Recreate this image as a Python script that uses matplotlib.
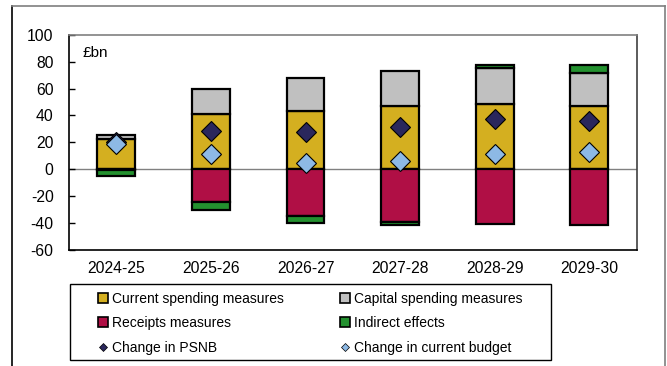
import matplotlib
matplotlib.use("Agg")
import matplotlib.pyplot as plt
import numpy as np
from matplotlib.lines import Line2D
from matplotlib.patches import Rectangle

plt.rcParams["font.family"] = ["Liberation Sans", "DejaVu Sans"]
plt.rcParams["font.size"] = 11
plt.rcParams["axes.unicode_minus"] = False

# Data (£bn)
years = ["2024-25", "2025-26", "2026-27", "2027-28", "2028-29", "2029-30"]
current_spending = [22.8, 41.4, 43.6, 46.8, 48.3, 46.8]
capital_spending = [2.5, 18.3, 24.0, 26.5, 27.2, 24.5]
receipts = [-0.5, -24.5, -34.9, -39.1, -40.4, -41.6]
indirect = [-4.7, -6.0, -5.0, -2.3, 2.3, 6.2]
change_psnb = [20.0, 28.7, 27.7, 31.5, 37.6, 35.9]
change_current_budget = [19.0, 11.4, 5.0, 6.4, 11.6, 12.6]
yticks = [-60, -40, -20, 0, 20, 40, 60, 80, 100]

col_current = "#D4AF20"
col_capital = "#C0C0C0"
col_receipts = "#B00F45"
col_indirect = "#23912F"
col_psnb = "#2A275C"
col_cb = "#8DB9E5"

fig = plt.figure(figsize=(6.67, 3.66), dpi=100)
W, H = 667, 366
ax = fig.add_axes([69 / W, 1 - 250 / H, (636.7 - 69) / W, (250 - 34.7) / H])

x = np.arange(len(years))
cur = np.array(current_spending)
cap = np.array(capital_spending)
rec = np.array(receipts)
ind = np.array(indirect)

bw = 0.40
edge = dict(edgecolor="black", linewidth=1.6, zorder=3)
ax.bar(x, cur, bw, color=col_current, **edge)
ax.bar(x, cap, bw, bottom=cur, color=col_capital, **edge)
ax.bar(x, rec, bw, color=col_receipts, **edge)
ind_bottom = np.where(ind >= 0, cur + cap, rec)
ax.bar(x, ind, bw, bottom=ind_bottom, color=col_indirect, **edge)

ax.plot(x, change_psnb, "D", color=col_psnb, markeredgecolor="black",
        markeredgewidth=0.8, markersize=10.5, linestyle="none", zorder=4)
ax.plot(x, change_current_budget, "D", color=col_cb, markeredgecolor="black",
        markeredgewidth=0.8, markersize=10.5, linestyle="none", zorder=5)

ax.axhline(0, color="#808080", linewidth=1.0, zorder=1)

ax.set_xlim(-0.5, len(years) - 0.5)
ax.set_ylim(-60, 100)
ax.set_yticks(yticks)
ax.set_xticks(x)
ax.set_xticklabels(years)
ax.tick_params(axis="y", direction="in", length=4, width=1, pad=11, labelsize=11.3)
ax.tick_params(axis="x", length=0, pad=8, labelsize=11.3)

ax.spines["left"].set_color("black")
ax.spines["bottom"].set_color("black")
ax.spines["top"].set_color("#808080")
ax.spines["right"].set_color("#404040")
for s in ax.spines.values():
    s.set_linewidth(1.2)

ax.text(14 / (636.7 - 69), 1 - (53 - 34.7) / (250 - 34.7), "£bn",
        transform=ax.transAxes, ha="left", va="center", fontsize=11)

# Legend
sq = dict(marker="s", linestyle="none", markersize=6.5,
          markeredgecolor="black", markeredgewidth=1.2)
dm = dict(marker="D", linestyle="none", markersize=4.5,
          markeredgecolor="black", markeredgewidth=0.5)
handles = [
    Line2D([], [], markerfacecolor=col_current, **sq),
    Line2D([], [], markerfacecolor=col_receipts, **sq),
    Line2D([], [], markerfacecolor=col_psnb, **dm),
    Line2D([], [], markerfacecolor=col_capital, **sq),
    Line2D([], [], markerfacecolor=col_indirect, **sq),
    Line2D([], [], markerfacecolor=col_cb, **dm),
]
labels = ["Current spending measures", "Receipts measures", "Change in PSNB",
          "Capital spending measures", "Indirect effects", "Change in current budget"]
fig.legend(handles, labels, ncol=2, loc="upper left",
           bbox_to_anchor=(97 / W, 1 - 291.5 / H), frameon=False, borderpad=0,
           handlelength=0.9, handletextpad=0.2, columnspacing=3.95,
           labelspacing=0.78, fontsize=10, borderaxespad=0)

fig.add_artist(Rectangle((70 / W, 1 - 360 / H), (551 - 70) / W, (360 - 284) / H,
                         transform=fig.transFigure, fill=False,
                         edgecolor="black", linewidth=1.0))

# Outer chart frame
fig.add_artist(Line2D([11.5 / W, 11.5 / W], [0, 1 - 5.5 / H],
                      transform=fig.transFigure, color="black", linewidth=1.2))
fig.add_artist(Line2D([11.5 / W, 665 / W], [1 - 5.5 / H, 1 - 5.5 / H],
                      transform=fig.transFigure, color="#7f7f7f", linewidth=1.2))
fig.add_artist(Line2D([665 / W, 665 / W], [0, 1 - 5.5 / H],
                      transform=fig.transFigure, color="#7f7f7f", linewidth=1.2))

fig.savefig("out.png", dpi=100)
